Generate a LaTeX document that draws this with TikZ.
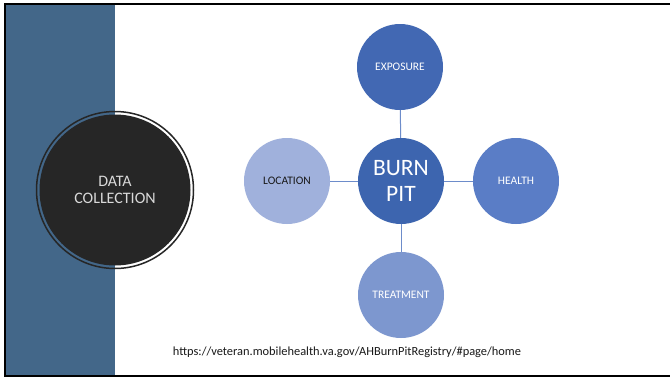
\documentclass[tikz,border=0pt]{standalone}
\usepackage{fontspec}
\setmainfont{Carlito}
\definecolor{band}{HTML}{436789}
\definecolor{darkc}{HTML}{262626}
\definecolor{cBurn}{HTML}{3D65AF}
\definecolor{cExp}{HTML}{4268B3}
\definecolor{cHealth}{HTML}{5A7DC6}
\definecolor{cLoc}{HTML}{A0B1DC}
\definecolor{cTreat}{HTML}{7D97CF}
\definecolor{cLine}{HTML}{6D8CCA}
\begin{document}
\begin{tikzpicture}[x=1pt,y=-1pt,
  bubble/.style={circle,minimum size=86pt,inner sep=0pt,align=center,text=white,font=\fontsize{11.5}{13}\selectfont},
  link/.style={draw=cLine,line width=1pt}]
\useasboundingbox (0,0) rectangle (670,378);
\fill[white] (0,0) rectangle (670,378);
\fill[band] (5,4) rectangle (115,376);
\draw[black,line width=2pt] (671,4) -- (5,4) -- (5,376) -- (671,376);
% data collection
\node[circle,minimum size=157pt,inner sep=0pt,draw=darkc,line width=1.5pt] (ring) at (115,190) {};
\node[circle,minimum size=151pt,inner sep=0pt,fill=darkc,text=black!15,align=center,font=\fontsize{16}{17}\selectfont] (data) at (115,190) {DATA\\COLLECTION};
% bubbles
\node[bubble,fill=cBurn,font=\fontsize{23.5}{26}\selectfont] (burn) at (401,181) {BURN\\PIT};
\node[bubble,fill=cExp] (exp) at (400,67) {EXPOSURE};
\node[bubble,fill=cHealth] (health) at (516,181) {HEALTH};
\node[bubble,fill=cLoc,text=black!90] (loc) at (287,181) {LOCATION};
\node[bubble,fill=cTreat] (treat) at (401,295) {TREATMENT};
\draw[link] (burn) -- (exp);
\draw[link] (burn) -- (health);
\draw[link] (burn) -- (loc);
\draw[link] (burn) -- (treat);
\node[font=\fontsize{12.4}{14}\selectfont,text=black!90] (url) at (347,352) {https://veteran.mobilehealth.va.gov/AHBurnPitRegistry/\#page/home};
\end{tikzpicture}
\end{document}
